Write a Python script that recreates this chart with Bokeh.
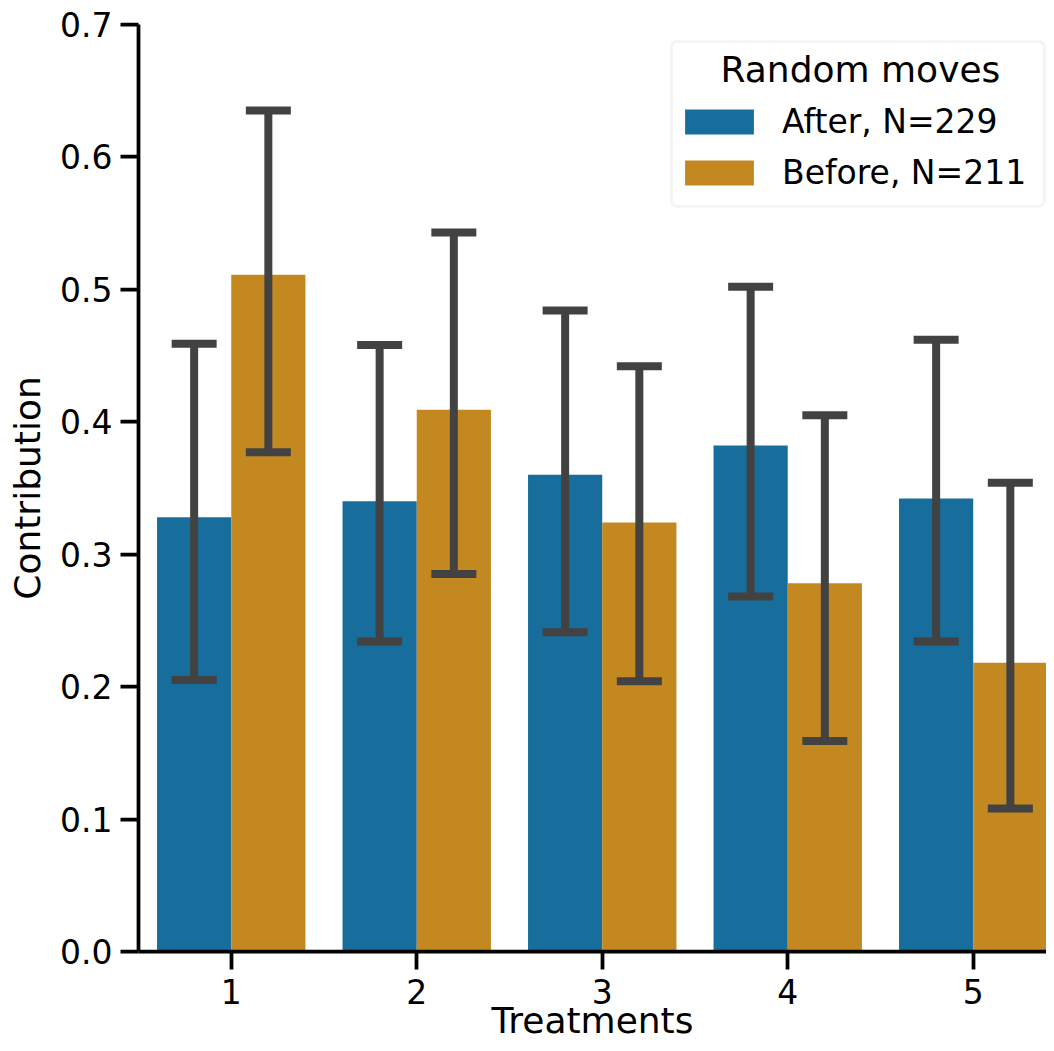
import numpy as np
from bokeh.plotting import figure
from bokeh.models import (ColumnDataSource, Whisker, TeeHead, FixedTicker, BoxAnnotation, Label,
                          PrintfTickFormatter, Legend, LegendItem, Range1d)
from bokeh.embed import file_html
from bokeh.resources import INLINE

treatments = ["1", "2", "3", "4", "5"]
groups = ["After, N=229", "Before, N=211"]
legend_title = "Random moves"
x_title = "Treatments"
y_title = "Contribution"
after_mean = [0.328, 0.340, 0.360, 0.382, 0.342]
before_mean = [0.511, 0.409, 0.324, 0.278, 0.218]
after_lo = [0.205, 0.234, 0.241, 0.268, 0.234]
after_hi = [0.459, 0.458, 0.484, 0.502, 0.462]
before_lo = [0.377, 0.285, 0.204, 0.159, 0.108]
before_hi = [0.635, 0.543, 0.442, 0.405, 0.354]
yticks = [0.0, 0.1, 0.2, 0.3, 0.4, 0.5, 0.6, 0.7]

BLUE = "#176d9c"
ORANGE = "#c38820"
ERR = "#424242"
FONT = "DejaVu Sans"

idx = np.arange(len(treatments))
src_a = ColumnDataSource(dict(x=idx - 0.2, top=after_mean, lo=after_lo, hi=after_hi))
src_b = ColumnDataSource(dict(x=idx + 0.2, top=before_mean, lo=before_lo, hi=before_hi))

p = figure(width=1046, height=1043, x_range=Range1d(-0.5, 4.395), y_range=Range1d(0, 0.7),
           output_backend="svg", toolbar_location=None,
           min_border_left=138, min_border_top=24, min_border_right=0, min_border_bottom=92)
p.outline_line_color = None
p.xgrid.visible = False
p.ygrid.visible = False

r_a = p.vbar(x="x", top="top", width=0.4, bottom=0, source=src_a, fill_color=BLUE, line_color=None)
r_b = p.vbar(x="x", top="top", width=0.4, bottom=0, source=src_b, fill_color=ORANGE, line_color=None)

for src in (src_a, src_b):
    w = Whisker(base="x", lower="lo", upper="hi", source=src, line_color=ERR, line_width=8,
                upper_head=TeeHead(size=45, line_color=ERR, line_width=8),
                lower_head=TeeHead(size=45, line_color=ERR, line_width=8), level="annotation")
    p.add_layout(w)

for ax in (p.xaxis[0], p.yaxis[0]):
    ax.axis_line_width = 3.75
    ax.axis_line_color = "black"
    ax.major_tick_line_width = 3.75
    ax.major_tick_line_color = "black"
    ax.major_tick_out = 18
    ax.major_tick_in = 0
    ax.minor_tick_out = 0
    ax.minor_tick_in = 0
    ax.major_label_text_font = FONT
    ax.major_label_text_font_size = "33px"
    ax.major_label_text_color = "black"
    ax.axis_label_text_font = FONT
    ax.axis_label_text_font_size = "36px"
    ax.axis_label_text_font_style = "normal"
    ax.axis_label_text_color = "black"

p.xaxis.major_label_standoff = 9
p.xaxis.axis_label_standoff = -7
p.yaxis.major_label_standoff = 8
p.yaxis.axis_label_standoff = 9

p.xaxis.ticker = FixedTicker(ticks=[int(i) for i in idx])
p.xaxis.major_label_overrides = {int(i): t for i, t in zip(idx, treatments)}
p.xaxis.axis_label = x_title
p.yaxis.ticker = FixedTicker(ticks=yticks)
p.yaxis.formatter = PrintfTickFormatter(format="%.1f")
p.yaxis.axis_label = y_title

# legend frame + centred title
p.add_layout(BoxAnnotation(left=2.373, right=4.384, top=0.6872, bottom=0.5626,
                           fill_color="white", fill_alpha=0.8, line_color="#d6d6d6",
                           line_width=2.5, border_radius=6, level="annotation"))
p.add_layout(Label(x=3.392, y=0.6658, text=legend_title, text_align="center",
                   text_baseline="alphabetic", text_font=FONT, text_font_size="36px",
                   text_color="black"))

legend = Legend(items=[LegendItem(label=groups[0], renderers=[r_a]),
                       LegendItem(label=groups[1], renderers=[r_b])],
                location=(538, 759))
legend.label_text_font = FONT
legend.label_text_font_size = "33px"
legend.label_text_color = "black"
legend.glyph_width = 86
legend.glyph_height = 31
legend.label_height = 38
legend.label_standoff = 20
legend.spacing = 12
legend.padding = 8
legend.margin = 0
legend.border_line_color = None
legend.background_fill_alpha = 0
p.add_layout(legend)

open("out.html", "w").write(file_html(p, INLINE))
